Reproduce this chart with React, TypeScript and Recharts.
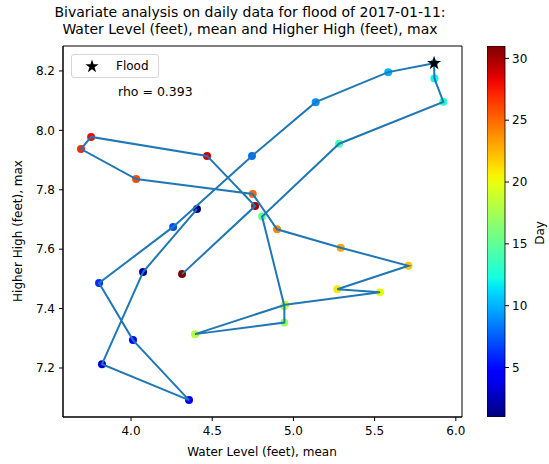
import React from 'react';
import {
  ScatterChart, Scatter, XAxis, YAxis, ReferenceArea,
  ComposedChart, Bar,
} from 'recharts';

// daily values, January 2017
const days = [1, 2, 3, 4, 5, 6, 7, 8, 9, 10, 11, 12, 13, 14, 15, 16, 17, 18, 19, 20, 21, 22, 23, 24, 25, 26, 27, 28, 29, 30, 31];
const waterLevelMean = [
  4.406, 4.074, 3.821, 4.357, 4.012, 3.803, 4.259, 4.745, 5.137, 5.584,
  5.866, 5.868, 5.923, 5.281, 4.807, 4.944, 4.944, 4.394, 4.950, 5.533,
  5.270, 5.708, 5.291, 4.899, 4.749, 4.031, 3.692, 3.754, 4.468, 4.764, 4.314,
];
const higherHighMax = [
  7.735, 7.523, 7.213, 7.092, 7.294, 7.486, 7.675, 7.914, 8.095, 8.196,
  8.226, 8.175, 8.096, 7.955, 7.710, 7.409, 7.353, 7.314, 7.413, 7.455,
  7.465, 7.544, 7.605, 7.667, 7.786, 7.836, 7.937, 7.978, 7.914, 7.745, 7.516,
];
const floodDay = 11;
const rho = 0.393;

const xTicks = [4.0, 4.5, 5.0, 5.5, 6.0];
const yTicks = [7.2, 7.4, 7.6, 7.8, 8.0, 8.2];
const dayTicks = [5, 10, 15, 20, 25, 30];
const dayRange = [1, 31];

const FONT = '"DejaVu Sans", sans-serif';

// matplotlib "jet" segment data
const jetSeg = {
  r: [[0, 0], [0.35, 0], [0.66, 1], [0.89, 1], [1, 0.5]],
  g: [[0, 0], [0.125, 0], [0.375, 1], [0.64, 1], [0.91, 0], [1, 0]],
  b: [[0, 0.5], [0.11, 1], [0.34, 1], [0.65, 0], [1, 0]],
};
function seg(pts: number[][], t: number) {
  for (let i = 1; i < pts.length; i++) {
    if (t <= pts[i][0]) {
      const [x0, y0] = pts[i - 1];
      const [x1, y1] = pts[i];
      return y0 + ((t - x0) / (x1 - x0)) * (y1 - y0);
    }
  }
  return pts[pts.length - 1][1];
}
function jet(t: number) {
  const c = (v: number) => Math.round(Math.max(0, Math.min(1, v)) * 255);
  return `rgb(${c(seg(jetSeg.r, t))},${c(seg(jetSeg.g, t))},${c(seg(jetSeg.b, t))})`;
}
const dayColor = (d: number) => jet((d - dayRange[0]) / (dayRange[1] - dayRange[0]));

const points = days.map((d, i) => ({ day: d, x: waterLevelMean[i], y: higherHighMax[i] }));
const floodPoint = points.filter((p) => p.day === floodDay);
const colorbarData = [{ name: 'Day', range: dayRange }];

function starPath(cx: number, cy: number, R: number) {
  const r = R * 0.382;
  let d = '';
  for (let i = 0; i < 10; i++) {
    const a = -Math.PI / 2 + (i * Math.PI) / 5;
    const rad = i % 2 === 0 ? R : r;
    d += (i === 0 ? 'M' : 'L') + (cx + rad * Math.cos(a)).toFixed(2) + ',' + (cy + rad * Math.sin(a)).toFixed(2);
  }
  return d + 'Z';
}

const FloodLegend = () => (
  <div style={{
    width: 86, height: 22, border: '1px solid #d5d5d5', borderRadius: 3, background: 'rgba(255,255,255,0.8)',
    display: 'flex', alignItems: 'center', fontFamily: FONT, fontSize: 12, color: '#000',
  }}>
    <svg width={40} height={22}>
      <path d={starPath(20, 11.5, 7)} fill="#000" />
    </svg>
    <span style={{ marginLeft: 4 }}>Flood</span>
  </div>
);

const tickStyle = { fontSize: 12, fill: '#000', fontFamily: FONT };

export default function App() {
  return (
    <div style={{ position: 'absolute', left: 0, top: 0, width: 549, height: 464, overflow: 'hidden', background: '#fff', fontFamily: FONT }}>
      <div style={{ position: 'absolute', left: 0, top: 4, width: 500, textAlign: 'center', fontSize: 14, lineHeight: '17px', color: '#000' }}>
        Bivariate analysis on daily data for flood of 2017-01-11:<br />
        Water Level (feet), mean and Higher High (feet), max
      </div>

      <div style={{ position: 'absolute', left: 0, top: 0 }}>
        <ScatterChart width={549} height={464} margin={{ top: 46, right: 87, bottom: 0, left: 0 }}>
          <XAxis
            type="number" dataKey="x" domain={[3.581, 6.038]} ticks={xTicks} interval={0}
            allowDataOverflow height={47} tickSize={4} tickMargin={5}
            tickFormatter={(v: number) => v.toFixed(1)} tick={tickStyle}
            axisLine={{ stroke: '#000' }} tickLine={{ stroke: '#000' }}
          />
          <YAxis
            type="number" dataKey="y" domain={[7.035, 8.284]} ticks={yTicks} interval={0}
            allowDataOverflow width={63} tickSize={4} tickMargin={4}
            tickFormatter={(v: number) => v.toFixed(1)} tick={tickStyle}
            axisLine={{ stroke: '#000' }} tickLine={{ stroke: '#000' }}
          />
          <ReferenceArea x1={3.581} x2={6.038} y1={7.035} y2={8.284} fill="none" stroke="#000" strokeWidth={1} ifOverflow="visible" />
          <Scatter
            data={points} isAnimationActive={false} legendType="none"
            shape={(p: any) => <circle cx={p.cx} cy={p.cy} r={4} fill={dayColor(p.payload.day)} />}
          />
          <Scatter
            data={points} isAnimationActive={false} legendType="none"
            line={{ stroke: '#1f77b4', strokeWidth: 2 }}
            shape={() => <g />}
          />
          <Scatter
            name="Flood" data={floodPoint} isAnimationActive={false}
            shape={(p: any) => <path d={starPath(p.cx, p.cy, 7.5)} fill="#000" />}
          />
        </ScatterChart>
      </div>

      <div style={{ position: 'absolute', left: 71, top: 54 }}>
        <FloodLegend />
      </div>

      <div style={{ position: 'absolute', left: 118, top: 84, fontSize: 12.5, color: '#000', whiteSpace: 'nowrap' }}>
        rho = {rho.toFixed(3)}
      </div>

      <div style={{
        position: 'absolute', left: 18, top: 231, transform: 'translate(-50%, -50%) rotate(-90deg)',
        fontSize: 12, whiteSpace: 'nowrap', color: '#000',
      }}>
        Higher High (feet), max
      </div>
      <div style={{ position: 'absolute', left: 262, top: 452, transform: 'translate(-50%, -50%)', fontSize: 12, whiteSpace: 'nowrap', color: '#000' }}>
        Water Level (feet), mean
      </div>

      <div style={{ position: 'absolute', left: 487, top: 0 }}>
        <ComposedChart width={62} height={464} data={colorbarData} margin={{ top: 46, right: 0, bottom: 47, left: 0 }} barCategoryGap={0}>
          <defs>
            <linearGradient id="jetGrad" x1="0" y1="1" x2="0" y2="0">
              {Array.from({ length: 41 }, (_, i) => i / 40).map((t) => (
                <stop key={t} offset={t} stopColor={jet(t)} />
              ))}
            </linearGradient>
          </defs>
          <XAxis dataKey="name" hide />
          <YAxis
            orientation="right" type="number" domain={dayRange} ticks={dayTicks} interval={0}
            allowDataOverflow width={44} tickSize={4} tickMargin={3} tick={tickStyle}
            axisLine={false} tickLine={{ stroke: '#000' }}
          />
          <Bar dataKey="range" fill="url(#jetGrad)" stroke="#000" strokeWidth={0.8} isAnimationActive={false} />
        </ComposedChart>
      </div>
      <div style={{
        position: 'absolute', left: 540, top: 233, transform: 'translate(-50%, -50%) rotate(-90deg)',
        fontSize: 12, whiteSpace: 'nowrap', color: '#000',
      }}>
        Day
      </div>
    </div>
  );
}
